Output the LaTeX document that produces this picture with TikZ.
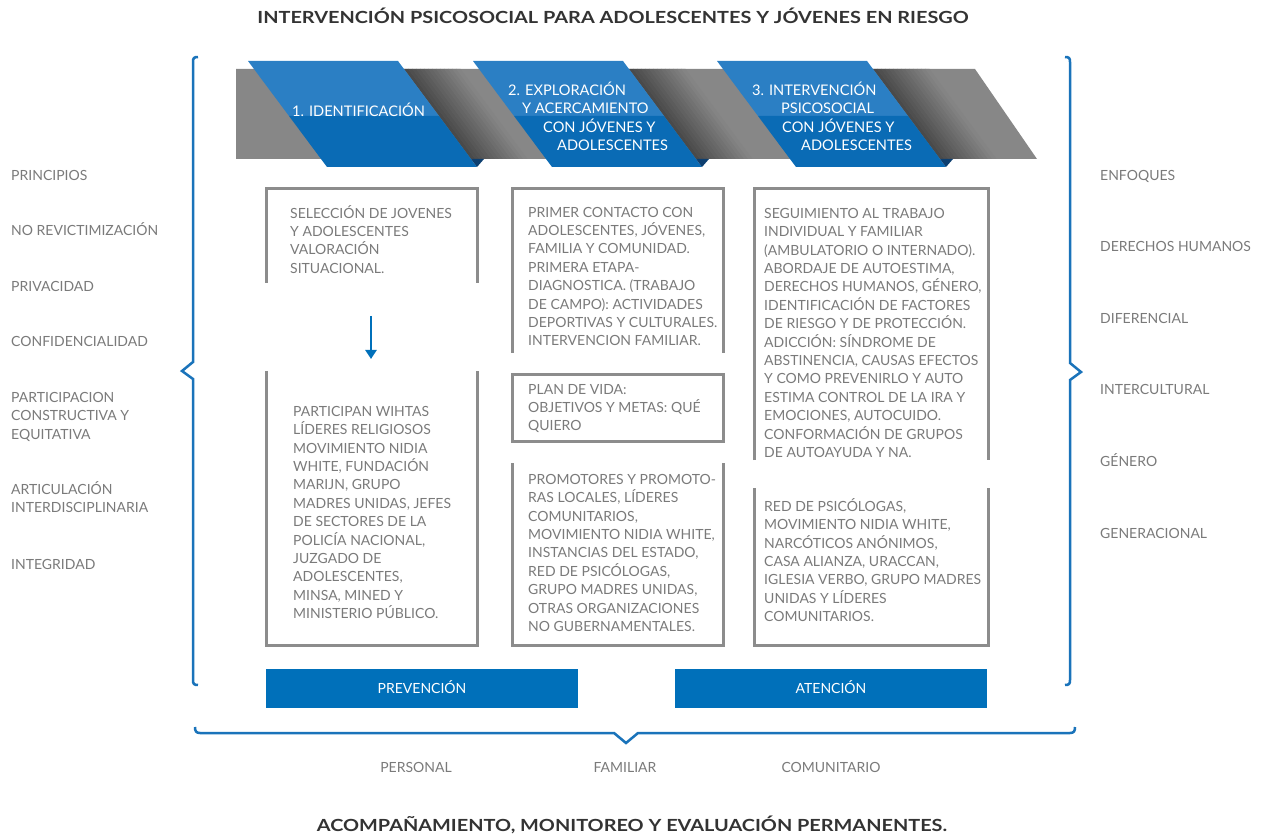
\documentclass[tikz,border=0pt]{standalone}
\usepackage{fontspec}
\setmainfont{Lato}
\usetikzlibrary{arrows.meta}
\definecolor{bandgray}{HTML}{878787}
\definecolor{blueA}{HTML}{2B7FC4}
\definecolor{blueB}{HTML}{0A6BB5}
\definecolor{navy}{HTML}{0D3F70}
\definecolor{boxblue}{HTML}{0070BA}
\definecolor{bracecol}{HTML}{1A73BA}
\definecolor{linegray}{HTML}{8C8C8C}
\definecolor{txtgray}{HTML}{7A7A7A}
\definecolor{titlegray}{HTML}{333333}
\newcommand{\fstrut}{\rule{0pt}{14pt}}
\newcommand{\wide}[1]{\scalebox{1.19}[1]{#1}}
\tikzset{
  body/.style={font=\fontsize{14}{18.4}\selectfont, text=txtgray, inner sep=0pt},
  para/.style={body, align=left, anchor=north west, yshift=9pt},
  label/.style={body, anchor=west, text height=10pt, text depth=0pt},
  clabel/.style={body, anchor=center, text height=10pt, text depth=0pt},
  htext/.style={font=\fontsize{14.6}{18.4}\selectfont, text=white, inner sep=0pt, align=left, anchor=north west, yshift=8.8pt},
  outline/.style={draw=linegray, line width=3pt},
  bluebox/.style={fill=boxblue, text=white, font=\fontsize{14}{16}\selectfont, minimum width=312pt, minimum height=39pt, inner sep=0pt, text height=10pt, text depth=0pt},
  bracestyle/.style={draw=bracecol, line width=2.5pt, line join=miter},
  title/.style={font=\bfseries\fontsize{16.7}{18}\selectfont, text=titlegray, inner sep=0pt, text height=12pt, text depth=0pt}
}
\begin{document}
\begin{tikzpicture}[x=1pt,y=-1pt]
\useasboundingbox (0,0) rectangle (1270,834);
% titles
\node[title] (t1) at (613,18) {\wide{INTERVENCIÓN PSICOSOCIAL PARA ADOLESCENTES Y JÓVENES EN RIESGO}};
\node[title] (t2) at (632,825) {\wide{ACOMPAÑAMIENTO, MONITOREO Y EVALUACIÓN PERMANENTES.}};
% grey band
\fill[bandgray] (236,69) -- (975,69) -- (1037,159) -- (236,159) -- cycle;
% shadows right of blue bands
\foreach \L in {248,473,717}{
  \foreach \k in {0,...,13}{
    \pgfmathsetmacro{\d}{45-3.3*\k}
    \fill[black!\d!bandgray] ({\L+156+4*\k},69) -- ({\L+160.5+4*\k},69) -- ({\L+227.5+4*\k},159) -- ({\L+223+4*\k},159) -- cycle;
  }
  \fill[blueA] (\L,61) -- ({\L+150},61) -- ({\L+191},116) -- ({\L+41},116) -- cycle;
  \fill[blueB] ({\L+41},116) -- ({\L+191},116) -- ({\L+229},167) -- ({\L+79},167) -- cycle;
  \fill[navy] ({\L+223},159) -- ({\L+236},159) -- ({\L+229},167) -- cycle;
}
% header texts
\node[htext] (h1) at (292,111) {\fstrut 1. IDENTIFICACIÓN};
\node[htext] (h2) at (508,90) {\fstrut 2. EXPLORACIÓN\\\hspace*{14pt}Y ACERCAMIENTO\\\hspace*{35pt}CON JÓVENES Y\\\hspace*{49pt}ADOLESCENTES};
\node[htext] (h3) at (752,90) {\fstrut 3. INTERVENCIÓN\\\hspace*{29pt}PSICOSOCIAL\\\hspace*{30pt}CON JÓVENES Y\\\hspace*{49pt}ADOLESCENTES};
% braces
\draw[bracestyle] (198,57) .. controls (194,57) and (193,58) .. (193,62) -- (193,362) -- (182,371) -- (193,379) -- (193,680) .. controls (193,684) and (194,685) .. (198,685);
\draw[bracestyle] (1065,57) .. controls (1069,57) and (1070,58) .. (1070,62) -- (1070,363) -- (1081,372) -- (1070,380) -- (1070,680) .. controls (1070,684) and (1069,685) .. (1065,685);
\draw[bracestyle] (195,727) .. controls (195,731) and (196,733) .. (200,733) -- (614,733) -- (626,743) -- (638,733) -- (1070,733) .. controls (1074,733) and (1075,731) .. (1075,727);
% boxes
\draw[outline] (266,283) -- (266,189) -- (477,189) -- (477,283);
\draw[outline] (266,371) -- (266,645) -- (477,645) -- (477,371);
\draw[outline] (512,353) -- (512,189) -- (723,189) -- (723,353);
\draw[outline] (512,375) rectangle (723,441);
\draw[outline] (512,463) -- (512,645) -- (723,645) -- (723,463);
\draw[outline] (754,460) -- (754,189) -- (988,189) -- (988,460);
\draw[outline] (754,488) -- (754,645) -- (988,645) -- (988,488);
% arrow
\coordinate (a1) at (371,316);
\coordinate (a2) at (371,359);
\draw[draw=boxblue, line width=2.5pt, -{Triangle[length=9pt,width=11pt]}] (a1) -- (a2);
% box texts
\node[para] (bA) at (290,213) {\fstrut SELECCIÓN DE JOVENES\\Y ADOLESCENTES\\VALORACIÓN\\SITUACIONAL.};
\node[para] (bB) at (293,411) {\fstrut PARTICIPAN WIHTAS\\LÍDERES RELIGIOSOS\\MOVIMIENTO NIDIA\\WHITE, FUNDACIÓN\\MARIJN, GRUPO\\MADRES UNIDAS, JEFES\\DE SECTORES DE LA\\POLICÍA NACIONAL,\\JUZGADO DE\\ADOLESCENTES,\\MINSA, MINED Y\\MINISTERIO PÚBLICO.};
\node[para] (bC) at (528,212) {\fstrut PRIMER CONTACTO CON\\ADOLESCENTES, JÓVENES,\\FAMILIA Y COMUNIDAD.\\PRIMERA ETAPA-\\DIAGNOSTICA. (TRABAJO\\DE CAMPO): ACTIVIDADES\\DEPORTIVAS Y CULTURALES.\\INTERVENCION FAMILIAR.};
\node[para] (bD) at (528,389) {\fstrut PLAN DE VIDA:\\OBJETIVOS Y METAS: QUÉ\\QUIERO};
\node[para] (bE) at (528,479) {\fstrut PROMOTORES Y PROMOTO-\\RAS LOCALES, LÍDERES\\COMUNITARIOS,\\MOVIMIENTO NIDIA WHITE,\\INSTANCIAS DEL ESTADO,\\RED DE PSICÓLOGAS,\\GRUPO MADRES UNIDAS,\\OTRAS ORGANIZACIONES\\NO GUBERNAMENTALES.};
\node[para] (bF) at (764,213) {\fstrut SEGUIMIENTO AL TRABAJO\\INDIVIDUAL Y FAMILIAR\\(AMBULATORIO O INTERNADO).\\ABORDAJE DE AUTOESTIMA,\\DERECHOS HUMANOS, GÉNERO,\\IDENTIFICACIÓN DE FACTORES\\DE RIESGO Y DE PROTECCIÓN.\\ADICCIÓN: SÍNDROME DE\\ABSTINENCIA, CAUSAS EFECTOS\\Y COMO PREVENIRLO Y AUTO\\ESTIMA CONTROL DE LA IRA Y\\EMOCIONES,  AUTOCUIDO.\\CONFORMACIÓN DE GRUPOS\\DE AUTOAYUDA Y NA.};
\node[para] (bG) at (764,506) {\fstrut RED DE PSICÓLOGAS,\\MOVIMIENTO NIDIA WHITE,\\NARCÓTICOS ANÓNIMOS,\\CASA ALIANZA, URACCAN,\\IGLESIA VERBO, GRUPO MADRES\\UNIDAS Y LÍDERES\\COMUNITARIOS.};
% left labels
\node[label] (l1) at (11,176) {PRINCIPIOS};
\node[label] (l2) at (11,231) {NO REVICTIMIZACIÓN};
\node[label] (l3) at (11,287) {PRIVACIDAD};
\node[label] (l4) at (11,342) {CONFIDENCIALIDAD};
\node[para] (l5) at (11,397) {\fstrut PARTICIPACION\\CONSTRUCTIVA Y\\EQUITATIVA};
\node[para] (l6) at (11,489) {\fstrut ARTICULACIÓN\\INTERDISCIPLINARIA};
\node[label] (l7) at (11,564) {INTEGRIDAD};
% right labels
\node[label] (r1) at (1100,176) {ENFOQUES};
\node[label] (r2) at (1100,247) {DERECHOS HUMANOS};
\node[label] (r3) at (1100,319) {DIFERENCIAL};
\node[label] (r4) at (1100,390) {INTERCULTURAL};
\node[label] (r5) at (1100,461) {GÉNERO};
\node[label] (r6) at (1100,533) {GENERACIONAL};
% blue boxes
\node[bluebox] (prev) at (422,688.5) {PREVENCIÓN};
\node[bluebox] (aten) at (831,688.5) {ATENCIÓN};
% bottom labels
\node[clabel] (p1) at (416,767) {PERSONAL};
\node[clabel] (p2) at (625,767) {FAMILIAR};
\node[clabel] (p3) at (831,767) {COMUNITARIO};
\end{tikzpicture}
\end{document}
